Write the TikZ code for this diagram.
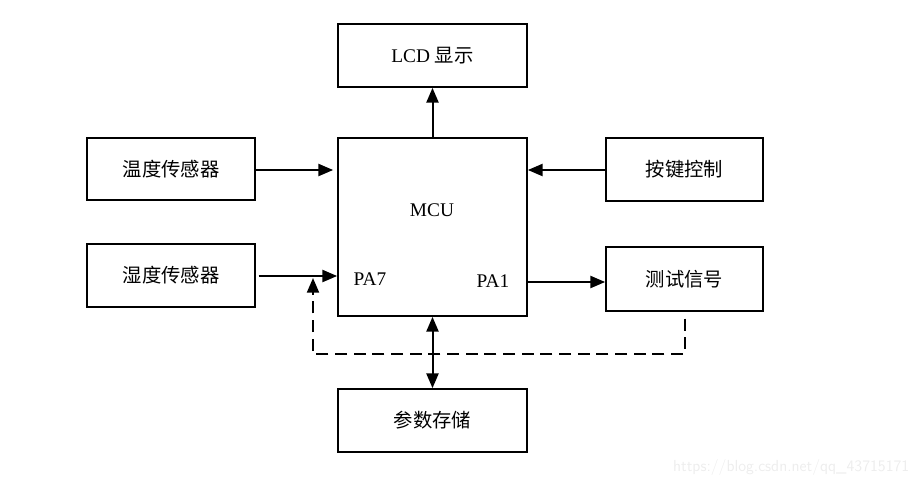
\documentclass[tikz,border=0pt]{standalone}
\usepackage{fontspec}
\setmainfont{Liberation Serif}
\newfontfamily\cjk{Noto Sans CJK SC}
\usetikzlibrary{arrows.meta}
\tikzset{
  blk/.style={draw, line width=1.3pt, minimum width=#1, inner sep=0pt},
  lnk/.style={line width=1.5pt, -{Triangle[length=11pt,width=9pt]}},
}
\begin{document}
\begin{tikzpicture}[x=0.75pt, y=-0.75pt, font=\fontsize{14.5}{17}\selectfont]
  \useasboundingbox (0,0) rectangle (921,487);
  \node[blk=141.75pt, minimum height=47.25pt] (lcd) at (432.5,55.5) {LCD {\cjk 显示}};
  \node[blk=141.75pt, minimum height=133.5pt] (mcu) at (432.5,227) {};
  \node[blk=126pt, minimum height=46.5pt] (temp) at (171,169) {\cjk 温度传感器};
  \node[blk=126pt, minimum height=47.25pt] (humi) at (171,275.5) {\cjk 湿度传感器};
  \node[blk=117.75pt, minimum height=47.25pt] (key) at (684.5,169.5) {\cjk 按键控制};
  \node[blk=117.75pt, minimum height=48pt] (test) at (684.5,279) {\cjk 测试信号};
  \node[blk=141.75pt, minimum height=47.25pt] (store) at (432.5,420.5) {\cjk 参数存储};
  \node (mcutxt) at (432,210) {MCU};
  \node (pa7) at (370,279) {PA7};
  \node (pa1) at (493,281) {PA1};
  \coordinate (c1) at (685,354);
  \coordinate (c2) at (313,354);
  \coordinate (c3) at (313,278);
  \draw[lnk] (mcu.north) -- (lcd.south);
  \draw[lnk, shorten >=3pt] (temp.east |- 0,170) -- (mcu.west |- 0,170);
  \draw[lnk] (key.west |- 0,170) -- (mcu.east |- 0,170);
  \draw[lnk, shorten <=2pt] (humi.east |- 0,276) -- (mcu.west |- 0,276);
  \draw[lnk] (mcu.east |- 0,282) -- (test.west |- 0,282);
  \draw[lnk, {Triangle[length=11pt,width=9pt]}-{Triangle[length=11pt,width=9pt]}] (mcu.south) -- (store.north);
  \draw[lnk, dash pattern=on 9pt off 5pt, shorten <=5pt] (test.south -| c1) -- (c1) -- (c2) -- (c3);
  \node[text=black!7, font=\sffamily\fontsize{12}{14}\selectfont, anchor=east] (wm) at (914,467) {https://blog.csdn.net/qq\_43715171};
\end{tikzpicture}
\end{document}
